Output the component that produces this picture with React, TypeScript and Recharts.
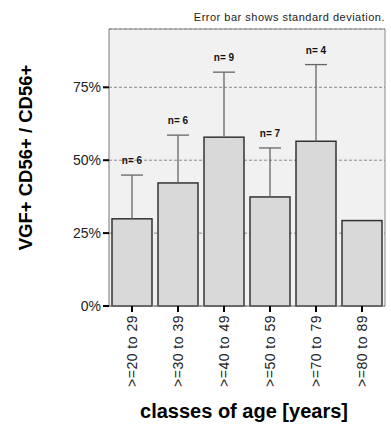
import {
  BarChart,
  Bar,
  XAxis,
  YAxis,
  CartesianGrid,
  Label,
} from "recharts";

const ageClasses = [
  ">=20 to 29",
  ">=30 to 39",
  ">=40 to 49",
  ">=50 to 59",
  ">=70 to 79",
  ">=80 to 89",
];
const meanPct = [29.9, 42.2, 57.9, 37.4, 56.5, 29.3];
const sdPct = [15.0, 16.4, 22.3, 16.8, 26.3, 0];
const groupN: (number | null)[] = [6, 6, 9, 7, 4, null];
const yTicks = [0, 25, 50, 75];

const FONT = "'Liberation Sans', Arial, sans-serif";

const chartData = ageClasses.map((age, i) => ({
  age,
  mean: meanPct[i],
  sd: sdPct[i],
  n: groupN[i],
}));

function BarWithSd(props: any) {
  const { x, y, width, height, payload } = props;
  const cx = x + width / 2;
  // pixels per percent, taken from the bar the scale already drew
  const pxPer = payload.mean ? height / payload.mean : 0;
  const top = y - payload.sd * pxPer;
  return (
    <g>
      <rect
        x={x}
        y={y}
        width={width}
        height={height}
        fill="#d9d9d9"
        stroke="#333"
        strokeWidth={1.5}
      />
      {payload.sd > 0 && (
        <g stroke="#666" strokeWidth={1.3}>
          <line x1={cx} y1={y} x2={cx} y2={top} />
          <line x1={cx - 11} y1={top} x2={cx + 11} y2={top} />
        </g>
      )}
      {payload.n != null && (
        <text
          x={cx}
          y={top - 11}
          textAnchor="middle"
          fontFamily={FONT}
          fontSize={10}
          fontWeight="bold"
          fill="#111"
        >
          n= {payload.n}
        </text>
      )}
    </g>
  );
}

function AgeTick(props: any) {
  const { x, y, payload } = props;
  return (
    <g transform={`translate(${x},${y})`}>
      <text
        transform="rotate(-90)"
        x={0}
        y={0}
        dy="0.35em"
        textAnchor="end"
        fontFamily={FONT}
        fontSize={14}
        letterSpacing={0.5}
        fill="#222"
      >
        {payload.value}
      </text>
    </g>
  );
}

function YTitle(props: any) {
  const vb = props.viewBox || { y: 29, height: 277 };
  const cy = vb.y + vb.height / 2 - 10;
  return (
    <text
      transform={`translate(32,${cy}) rotate(-90)`}
      textAnchor="middle"
      fontFamily={FONT}
      fontSize={18.5}
      fontWeight="bold"
      fill="#000"
    >
      VGF+ CD56+ / CD56+
    </text>
  );
}

function XTitle(props: any) {
  const vb = props.viewBox || { x: 109, width: 276, y: 306 };
  return (
    <text
      x={vb.x + vb.width / 2 - 3}
      y={418}
      textAnchor="middle"
      fontFamily={FONT}
      fontSize={20}
      fontWeight="bold"
      fill="#000"
    >
      classes of age [years]
    </text>
  );
}

function NoteTitle() {
  return (
    <text
      x={385}
      y={21}
      textAnchor="end"
      fontFamily={FONT}
      fontSize={11}
      letterSpacing={0.5}
      fill="#222"
    >
      Error bar shows standard deviation.
    </text>
  );
}

export default function App() {
  return (
    <div
      style={{
        position: "absolute",
        left: 0,
        top: 0,
        width: 391,
        height: 424,
        background: "#fff",
      }}
    >
      <BarChart
        width={391}
        height={424}
        data={chartData}
        margin={{ top: 28, right: 5, bottom: 0, left: 0 }}
        barSize={40}
      >
        <CartesianGrid
          vertical={false}
          fill="#f1f1f1"
          fillOpacity={1}
          stroke="#8a8a8a"
          strokeDasharray="3 2"
        />
        <XAxis
          dataKey="age"
          height={118}
          interval={0}
          tick={<AgeTick />}
          tickSize={6}
          tickMargin={3}
          tickLine={{ stroke: "#000", strokeWidth: 2 }}
          axisLine={{ stroke: "#777" }}
        >
          <Label content={<XTitle />} />
        </XAxis>
        <XAxis
          xAxisId="top"
          dataKey="age"
          orientation="top"
          height={1}
          tick={false}
          tickLine={false}
          axisLine={{ stroke: "#888" }}
        />
        <YAxis
          width={109}
          domain={[0, 95]}
          ticks={yTicks}
          tickFormatter={(v) => `${v}%`}
          tick={{ fontSize: 14, fill: "#222", fontFamily: FONT }}
          tickSize={6}
          tickMargin={2}
          tickLine={{ stroke: "#000", strokeWidth: 2 }}
          axisLine={{ stroke: "#777" }}
        >
          <Label content={<YTitle />} />
          <Label content={<NoteTitle />} />
        </YAxis>
        <YAxis
          yAxisId="right"
          orientation="right"
          width={1}
          domain={[0, 95]}
          tick={false}
          tickLine={false}
          axisLine={{ stroke: "#888" }}
        />
        <Bar
          dataKey="mean"
          shape={<BarWithSd />}
          isAnimationActive={false}
        />
      </BarChart>
    </div>
  );
}
